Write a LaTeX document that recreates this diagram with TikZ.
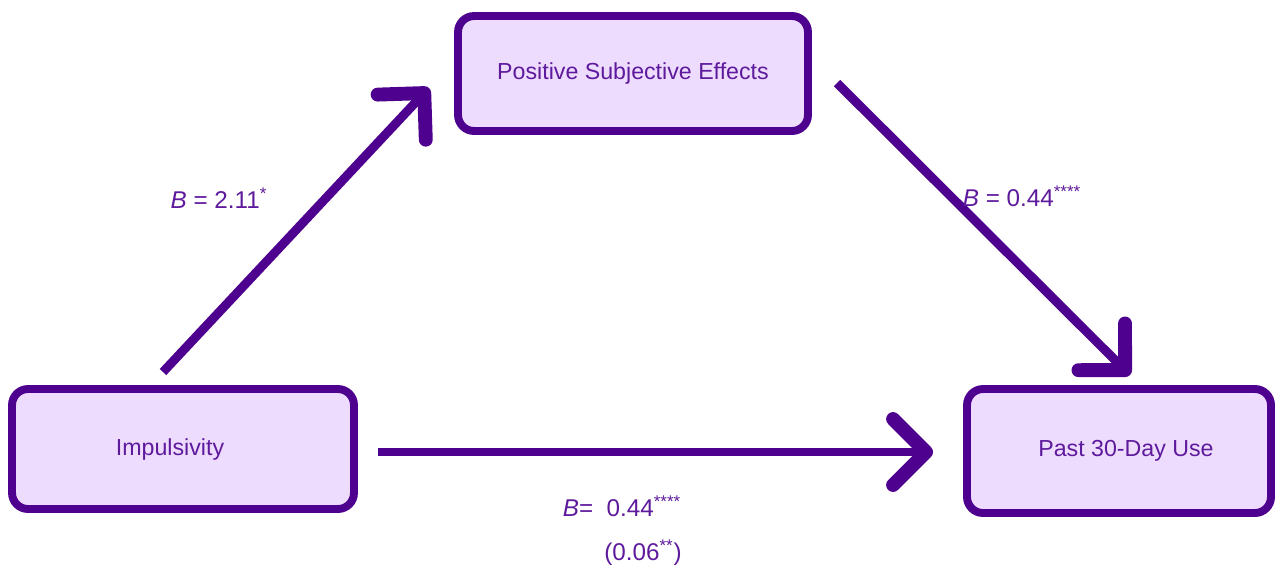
\documentclass[tikz,border=0pt]{standalone}
\usepackage{fontspec}
\setmainfont{Liberation Sans}
\usepackage{xcolor}
\definecolor{pathpurple}{HTML}{4E008E}
\definecolor{boxlilac}{HTML}{EEDCFF}
\definecolor{textpurple}{HTML}{5E1A9C}
\usetikzlibrary{arrows.meta}

\begin{document}
\begin{tikzpicture}[x=0.02cm,y=-0.02cm,font=\fontsize{13.2}{16}\selectfont,
  varbox/.style={draw=pathpurple,fill=boxlilac,line width=4.5pt,
    rounded corners=0.32cm,text=textpurple,inner sep=0pt},
  effect/.style={pathpurple,line width=5.1pt,
    -{Straight Barb[length=0.66cm,width=1.32cm,line width=2.8pt 1,round]}},
  coef/.style={text=textpurple,inner sep=1pt,font=\fontsize{13.8}{16}\selectfont}]
  \useasboundingbox (0,0) rectangle (1277,566);
  % the three variables
  \node[varbox,minimum width=7cm,minimum height=2.3cm] (pse) at (633,73.5)
    {Positive Subjective Effects};
  \node[varbox,minimum width=6.84cm,minimum height=2.4cm] (imp) at (183,449)
    {\hspace*{-0.52cm}Impulsivity};
  \node[varbox,minimum width=6.08cm,minimum height=2.48cm] (use) at (1119,451)
    {\hspace*{0.28cm}Past 30-Day Use};
  % free ends of the paths
  \coordinate (imp-up) at (163,372);
  \coordinate (pse-in) at (429,88);
  \coordinate (pse-out) at (837,83);
  \coordinate (use-top) at (1130,375);
  \coordinate (imp-right) at (378,452);
  \coordinate (use-left) at (933,452);
  % paths a, b and c
  \draw[effect] (imp-up) -- (pse-in);
  \draw[effect] (pse-out) -- (use-top);
  \draw[effect] (imp-right) -- (use-left);
  % coefficients
  \node[coef] (a-coef) at (219,198) {\textit{B} = 2.11\textsuperscript{*}};
  \node[coef] (b-coef) at (1022,196) {\textit{B} = 0.44\textsuperscript{****}};
  \node[coef] (c-coef) at (622,506) {\textit{B}=\ \ 0.44\textsuperscript{****}};
  \node[coef] (c-direct) at (643,553) {(0.06\textsuperscript{**})};
\end{tikzpicture}
\end{document}
